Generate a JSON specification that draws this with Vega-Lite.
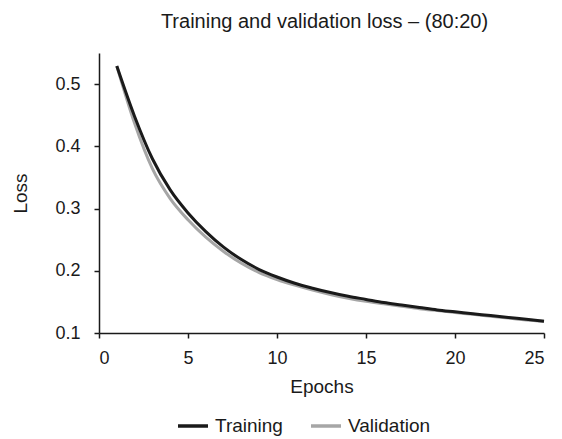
{
  "$schema": "https://vega.github.io/schema/vega-lite/v6.json",
  "width": 445,
  "height": 280,
  "autosize": "none",
  "padding": {"left": 99, "top": 53, "right": 18, "bottom": 106},
  "background": "white",
  "title": {
    "text": "Training and validation loss – (80:20)",
    "font": "Liberation Sans",
    "fontSize": 20,
    "fontWeight": "normal",
    "color": "#1a1a1a",
    "offset": 21,
    "dx": 3
  },
  "config": {
    "view": {"stroke": null},
    "axis": {
      "grid": false,
      "domainColor": "#1a1a1a",
      "domainWidth": 1.5,
      "tickColor": "#1a1a1a",
      "tickWidth": 1.5,
      "tickSize": 5,
      "labelFont": "Liberation Sans",
      "labelFontSize": 18,
      "labelColor": "#1a1a1a",
      "titleFont": "Liberation Sans",
      "titleFontSize": 19,
      "titleFontWeight": "normal",
      "titleColor": "#1a1a1a"
    }
  },
  "data": {
    "values": [
      {"epoch": 1, "loss": 0.529, "series": "Validation"},
      {"epoch": 2, "loss": 0.437, "series": "Validation"},
      {"epoch": 3, "loss": 0.364, "series": "Validation"},
      {"epoch": 4, "loss": 0.316, "series": "Validation"},
      {"epoch": 5, "loss": 0.282, "series": "Validation"},
      {"epoch": 6, "loss": 0.254, "series": "Validation"},
      {"epoch": 7, "loss": 0.231, "series": "Validation"},
      {"epoch": 8, "loss": 0.212, "series": "Validation"},
      {"epoch": 9, "loss": 0.197, "series": "Validation"},
      {"epoch": 10, "loss": 0.186, "series": "Validation"},
      {"epoch": 11, "loss": 0.177, "series": "Validation"},
      {"epoch": 12, "loss": 0.169, "series": "Validation"},
      {"epoch": 13, "loss": 0.162, "series": "Validation"},
      {"epoch": 14, "loss": 0.156, "series": "Validation"},
      {"epoch": 15, "loss": 0.151, "series": "Validation"},
      {"epoch": 16, "loss": 0.147, "series": "Validation"},
      {"epoch": 17, "loss": 0.143, "series": "Validation"},
      {"epoch": 18, "loss": 0.139, "series": "Validation"},
      {"epoch": 19, "loss": 0.136, "series": "Validation"},
      {"epoch": 20, "loss": 0.133, "series": "Validation"},
      {"epoch": 21, "loss": 0.130, "series": "Validation"},
      {"epoch": 22, "loss": 0.127, "series": "Validation"},
      {"epoch": 23, "loss": 0.124, "series": "Validation"},
      {"epoch": 24, "loss": 0.121, "series": "Validation"},
      {"epoch": 25, "loss": 0.119, "series": "Validation"},
      {"epoch": 1, "loss": 0.529, "series": "Training"},
      {"epoch": 2, "loss": 0.448, "series": "Training"},
      {"epoch": 3, "loss": 0.380, "series": "Training"},
      {"epoch": 4, "loss": 0.330, "series": "Training"},
      {"epoch": 5, "loss": 0.293, "series": "Training"},
      {"epoch": 6, "loss": 0.263, "series": "Training"},
      {"epoch": 7, "loss": 0.238, "series": "Training"},
      {"epoch": 8, "loss": 0.218, "series": "Training"},
      {"epoch": 9, "loss": 0.202, "series": "Training"},
      {"epoch": 10, "loss": 0.190, "series": "Training"},
      {"epoch": 11, "loss": 0.180, "series": "Training"},
      {"epoch": 12, "loss": 0.172, "series": "Training"},
      {"epoch": 13, "loss": 0.165, "series": "Training"},
      {"epoch": 14, "loss": 0.159, "series": "Training"},
      {"epoch": 15, "loss": 0.154, "series": "Training"},
      {"epoch": 16, "loss": 0.149, "series": "Training"},
      {"epoch": 17, "loss": 0.145, "series": "Training"},
      {"epoch": 18, "loss": 0.141, "series": "Training"},
      {"epoch": 19, "loss": 0.137, "series": "Training"},
      {"epoch": 20, "loss": 0.134, "series": "Training"},
      {"epoch": 21, "loss": 0.131, "series": "Training"},
      {"epoch": 22, "loss": 0.128, "series": "Training"},
      {"epoch": 23, "loss": 0.125, "series": "Training"},
      {"epoch": 24, "loss": 0.122, "series": "Training"},
      {"epoch": 25, "loss": 0.119, "series": "Training"}
    ]
  },
  "mark": {"type": "line", "interpolate": "monotone", "strokeWidth": 3},
  "encoding": {
    "x": {
      "field": "epoch",
      "type": "quantitative",
      "title": "Epochs",
      "scale": {"domain": [0, 25], "nice": false, "zero": false},
      "axis": {"values": [0, 5, 10, 15, 20, 25], "labelPadding": 11, "titlePadding": 10}
    },
    "y": {
      "field": "loss",
      "type": "quantitative",
      "title": "Loss",
      "scale": {"domain": [0.1, 0.55], "nice": false, "zero": false},
      "axis": {"values": [0.1, 0.2, 0.3, 0.4, 0.5], "format": ".1f", "labelPadding": 14, "titlePadding": 24}
    },
    "color": {
      "field": "series",
      "type": "nominal",
      "scale": {"domain": ["Training", "Validation"], "range": ["#1a1a1a", "#a6a6a6"]},
      "legend": {
        "title": null,
        "orient": "none",
        "direction": "horizontal",
        "legendX": 77,
        "legendY": 356,
        "symbolType": "stroke",
        "symbolSize": 900,
        "symbolStrokeWidth": 3.5,
        "labelFont": "Liberation Sans",
        "labelFontSize": 19,
        "labelColor": "#1a1a1a",
        "labelOffset": 5,
        "columnPadding": 21
      }
    },
    "order": {"field": "series", "sort": "descending"}
  }
}
